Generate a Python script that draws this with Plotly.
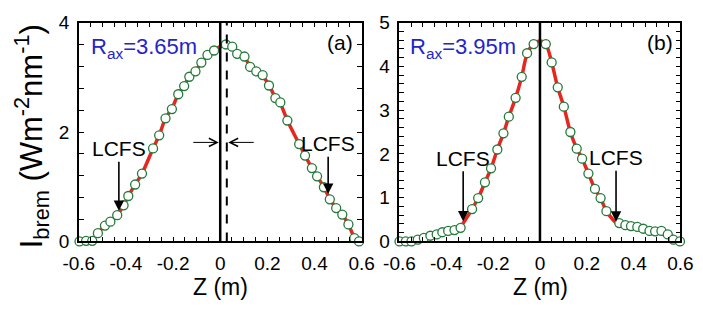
import plotly.graph_objects as go

# ---------------- data ----------------
# panel (a) R_ax = 3.65 m
za = [-0.597, -0.569, -0.543, -0.519, -0.489, -0.466, -0.437, -0.410, -0.390, -0.361,
      -0.332, -0.285, -0.259, -0.232, -0.205, -0.178, -0.153, -0.131, -0.105, -0.080,
      -0.054, -0.026, 0.024, 0.051, 0.072, 0.103, 0.127, 0.153, 0.180, 0.207,
      0.234, 0.255, 0.285, 0.335, 0.360, 0.389, 0.411, 0.440, 0.465, 0.492,
      0.518, 0.544, 0.569, 0.589]
Ia = [0.00, 0.01, 0.01, 0.15, 0.29, 0.36, 0.48, 0.66, 0.83, 1.04,
      1.24, 1.70, 1.94, 2.25, 2.42, 2.69, 2.84, 3.01, 3.11, 3.27,
      3.41, 3.49, 3.60, 3.56, 3.43, 3.38, 3.19, 3.11, 3.04, 2.85,
      2.62, 2.54, 2.21, 1.78, 1.57, 1.34, 1.19, 0.99, 0.77, 0.61,
      0.49, 0.31, 0.06, 0.00]

# panel (b) R_ax = 3.95 m
zb = [-0.600, -0.573, -0.549, -0.522, -0.496, -0.468, -0.441, -0.417, -0.392, -0.365,
      -0.339, -0.290, -0.264, -0.235, -0.209, -0.182, -0.156, -0.133, -0.104, -0.078,
      -0.055, -0.027, 0.025, 0.050, 0.076, 0.102, 0.130, 0.157, 0.180, 0.207,
      0.235, 0.259, 0.284, 0.339, 0.365, 0.389, 0.416, 0.441, 0.468, 0.492,
      0.519, 0.546, 0.570, 0.598]
Ib = [0.00, 0.00, 0.00, 0.04, 0.08, 0.13, 0.16, 0.21, 0.24, 0.26,
      0.31, 0.74, 0.99, 1.35, 1.67, 2.10, 2.47, 2.85, 3.28, 3.76,
      4.30, 4.51, 4.51, 4.09, 3.52, 3.08, 2.50, 2.12, 1.89, 1.55,
      1.20, 0.99, 0.69, 0.42, 0.37, 0.35, 0.33, 0.29, 0.24, 0.23,
      0.24, 0.16, 0.04, 0.00]

# red fit curves
za_fit = [-0.543, -0.519, -0.489, -0.466, -0.437, -0.410, -0.390, -0.361, -0.332, -0.285,
          -0.259, -0.232, -0.205, -0.178, -0.153, -0.131, -0.105, -0.080, -0.054, -0.026,
          0.000, 0.024, 0.051, 0.072, 0.103, 0.127, 0.153, 0.180, 0.207, 0.234,
          0.255, 0.285, 0.335, 0.360, 0.389, 0.411, 0.440, 0.465, 0.492, 0.518,
          0.544, 0.569, 0.589]
Ia_fit = [0.02, 0.15, 0.29, 0.37, 0.48, 0.66, 0.83, 1.04, 1.24, 1.70,
          1.94, 2.25, 2.43, 2.69, 2.85, 3.01, 3.12, 3.27, 3.40, 3.50,
          3.56, 3.59, 3.55, 3.46, 3.36, 3.21, 3.11, 3.02, 2.86, 2.63,
          2.52, 2.21, 1.78, 1.57, 1.34, 1.19, 0.99, 0.78, 0.61, 0.49,
          0.31, 0.08, 0.00]
zb_fit = [-0.330, -0.290, -0.264, -0.235, -0.209, -0.182, -0.156, -0.133, -0.104, -0.078,
          -0.055, -0.027, 0.000, 0.025, 0.050, 0.076, 0.102, 0.130, 0.157, 0.180,
          0.207, 0.235, 0.259, 0.284, 0.325]
Ib_fit = [0.40, 0.74, 0.99, 1.35, 1.67, 2.10, 2.47, 2.85, 3.28, 3.76,
          4.28, 4.52, 4.58, 4.50, 4.09, 3.52, 3.08, 2.50, 2.12, 1.89,
          1.55, 1.20, 0.99, 0.69, 0.42]

xticks = [-0.6, -0.4, -0.2, 0, 0.2, 0.4, 0.6]
xticklabels = ["-0.6", "-0.4", "-0.2", "0", "0.2", "0.4", "0.6"]

FONT = "Arial, Liberation Sans, sans-serif"
GREEN = "#237a3a"
RED = "#e8251e"
BLUE = "#2424c8"

fig = go.Figure()

mk = dict(symbol="circle", size=9, color="white", line=dict(color=GREEN, width=1.3))
# panel a
fig.add_trace(go.Scatter(x=za_fit, y=Ia_fit, mode="lines", line=dict(color=RED, width=3.5, shape="spline"),
                         xaxis="x", yaxis="y", cliponaxis=False, hoverinfo="skip"))
fig.add_trace(go.Scatter(x=za, y=Ia, mode="markers", marker=mk, xaxis="x", yaxis="y", cliponaxis=False))
# panel b
fig.add_trace(go.Scatter(x=zb_fit, y=Ib_fit, mode="lines", line=dict(color=RED, width=3.5, shape="spline"),
                         xaxis="x2", yaxis="y2", cliponaxis=False, hoverinfo="skip"))
fig.add_trace(go.Scatter(x=zb, y=Ib, mode="markers", marker=mk, xaxis="x2", yaxis="y2", cliponaxis=False))

W, H = 703, 314
ytop = 1 - 13.5 / H
ybot = 1 - 248 / H
TICKSIZE = 19

common_x = dict(range=[-0.6, 0.6], tickvals=xticks, ticktext=xticklabels, ticks="inside", ticklen=5,
                tickwidth=1, tickcolor="black", showline=True, linecolor="black", linewidth=1.5,
                mirror="ticks", showgrid=False, zeroline=False,
                tickfont=dict(family=FONT, size=TICKSIZE, color="black"), ticklabelstandoff=4,
                minor=dict(dtick=0.05, tick0=-0.6, ticks="inside", ticklen=5, tickwidth=1, tickcolor="black",
                           showgrid=False))
common_y = dict(ticks="inside", ticklen=5, tickwidth=1, tickcolor="black", showline=True, linecolor="black",
                linewidth=1.5, mirror="ticks", showgrid=False, zeroline=False,
                tickfont=dict(family=FONT, size=TICKSIZE, color="black"), ticklabelstandoff=4)

fig.update_layout(
    width=W, height=H, margin=dict(l=0, r=0, t=0, b=0),
    paper_bgcolor="white", plot_bgcolor="white", showlegend=False,
    xaxis=dict(domain=[65.5 / W, 360.5 / W], anchor="y", **common_x),
    yaxis=dict(domain=[ybot, ytop], anchor="x", range=[0, 4], tickvals=[0, 2, 4],
               minor=dict(dtick=0.4, tick0=0, ticks="inside", ticklen=5, tickwidth=1, tickcolor="black",
                          showgrid=False),
               **common_y),
    xaxis2=dict(domain=[400 / W, 693 / W], anchor="y2", **common_x),
    yaxis2=dict(domain=[ybot, ytop], anchor="x2", range=[0, 5], tickvals=[0, 1, 2, 3, 4, 5],
                minor=dict(dtick=0.2, tick0=0, ticks="inside", ticklen=5, tickwidth=1, tickcolor="black",
                           showgrid=False),
                **common_y),
)

# vertical lines
fig.add_shape(type="line", xref="x", yref="y domain", x0=0, x1=0, y0=0, y1=1, line=dict(color="black", width=2.5))
fig.add_shape(type="line", xref="x", yref="y domain", x0=0.028, x1=0.028, y0=0, y1=1,
              line=dict(color="black", width=2, dash="dash"))
fig.add_shape(type="line", xref="x2", yref="y2 domain", x0=0, x1=0, y0=0, y1=1, line=dict(color="black", width=2.5))

ann = []
# axis titles
for xc in (213, 547):
    ann.append(dict(text="Z (m)", xref="paper", yref="paper", x=xc / W, y=1 - 297 / H, showarrow=False,
                    font=dict(family=FONT, size=23, color="black"), xanchor="center", yanchor="middle"))
ann.append(dict(text="I<sub>brem</sub> (Wm<sup>-2</sup>nm<sup>-1</sup>)", xref="paper", yref="paper",
                x=17 / W, y=1 - 135 / H, showarrow=False, textangle=-90,
                font=dict(family=FONT, size=31, color="black"), xanchor="center", yanchor="middle"))
# panel labels
ann.append(dict(text="R<sub>ax</sub>=3.65m", xref="paper", yref="paper", x=76 / W, y=1 - 41 / H,
                showarrow=False, font=dict(family=FONT, size=22, color=BLUE), xanchor="left", yanchor="middle"))
ann.append(dict(text="R<sub>ax</sub>=3.95m", xref="paper", yref="paper", x=409 / W, y=1 - 41 / H,
                showarrow=False, font=dict(family=FONT, size=22, color=BLUE), xanchor="left", yanchor="middle"))
ann.append(dict(text="(a)", xref="paper", yref="paper", x=354 / W, y=1 - 35 / H,
                showarrow=False, font=dict(family=FONT, size=21, color="black"), xanchor="right", yanchor="middle"))
ann.append(dict(text="(b)", xref="paper", yref="paper", x=687 / W, y=1 - 35 / H,
                showarrow=False, font=dict(family=FONT, size=21, color="black"), xanchor="right", yanchor="middle"))
# LCFS arrows
for xr, yr, xt, yt, ay in [("x", "y", -0.43, 0.56, -62), ("x", "y", 0.458, 0.87, -50),
                           ("x2", "y2", -0.328, 0.46, -63), ("x2", "y2", 0.325, 0.45, -64)]:
    ann.append(dict(text="LCFS", xref=xr, yref=yr, x=xt, y=yt, ax=0, ay=ay, showarrow=True,
                    arrowhead=2, arrowsize=1.3, arrowwidth=1.6, arrowcolor="black", standoff=0,
                    font=dict(family=FONT, size=21, color="black")))
# shift arrows
ann.append(dict(text="", xref="x", yref="y", x=-0.006, y=1.81, ax=-27, ay=0, showarrow=True,
                arrowhead=5, arrowsize=1.6, arrowwidth=1, arrowcolor="black"))
ann.append(dict(text="", xref="x", yref="y", x=0.034, y=1.81, ax=27, ay=0, showarrow=True,
                arrowhead=5, arrowsize=1.6, arrowwidth=1, arrowcolor="black"))

fig.update_layout(annotations=ann)
fig.write_html("out.html")
